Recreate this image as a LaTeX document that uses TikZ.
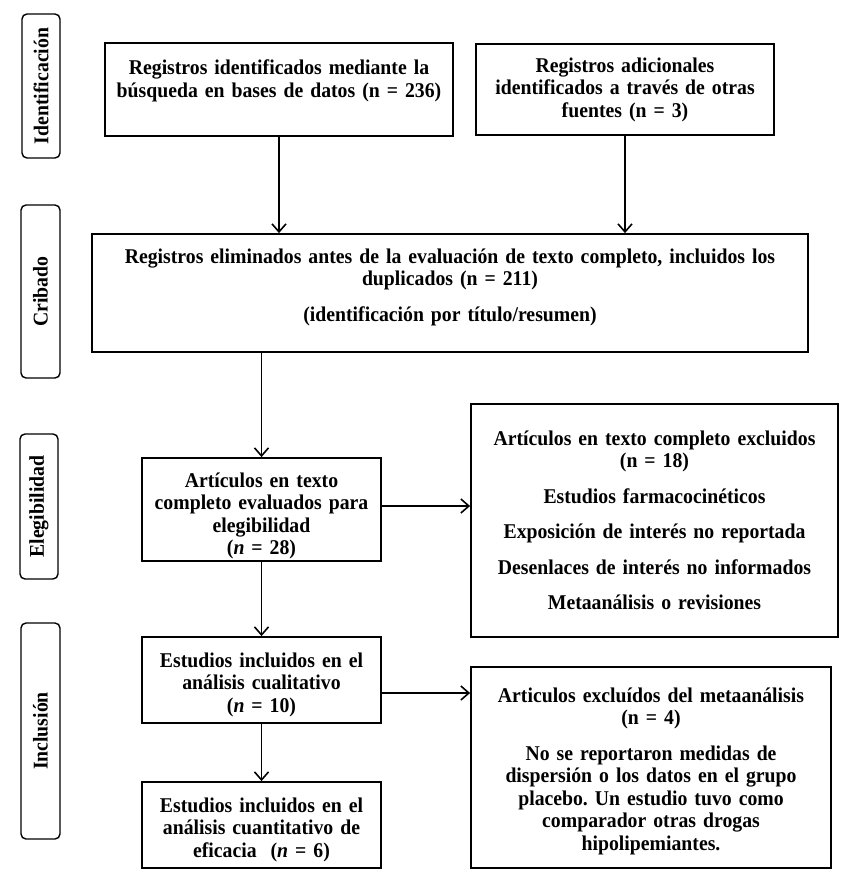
\documentclass[tikz,border=0pt]{standalone}
\usepackage{fontspec}
\setmainfont{Liberation Serif}[FakeStretch=0.94]
\usetikzlibrary{arrows.meta}
\frenchspacing

\begin{document}
\begin{tikzpicture}[x=1pt, y=-1pt, >={Straight Barb[length=8pt,width=14pt]},
	font=\bfseries\fontsize{21}{22.5}\selectfont,
	box/.style={draw, line width=1.8pt, inner sep=2pt, align=center},
	phase/.style={draw, line width=1.4pt, rounded corners=5pt, rotate=90, inner sep=0pt},
	flow/.style={->, line width=1.6pt}]
\useasboundingbox (0,0) rectangle (845,878);
%========================
% phase labels (left column)
%========================
\node[phase, minimum width=144pt, minimum height=38pt] (lident) at (41,86) {Identificación};
\node[phase, minimum width=173pt, minimum height=39pt] (lcrib) at (40.5,291.5) {Cribado};
\node[phase, minimum width=145pt, minimum height=38pt] (lelig) at (39,506.5) {Elegibilidad};
\node[phase, minimum width=216pt, minimum height=39pt] (lincl) at (40.5,731) {Inclusión};

%========================
% identification and screening
%========================
\node[box, minimum width=348pt, minimum height=93pt, text width=340pt] (ident) at (279,89.5) {
	Registros identificados mediante la\\ búsqueda en bases de datos (n = 236)\rule[-22pt]{0pt}{22pt}};
\node[box, minimum width=298pt, minimum height=91pt, text width=290pt] (other) at (625,89.5) {
	Registros adicionales\\ identificados a través de otras\\ fuentes (n = 3)};
\node[box, minimum width=716pt, minimum height=118pt, text width=708pt] (screen) at (450,293) {
	Registros eliminados antes de la evaluación de texto completo, incluidos los\\ duplicados (n = 211)\\[13pt]
	(identificación por título/resumen)\rule[-16pt]{0pt}{16pt}};

%========================
% eligibility
%========================
\node[box, minimum width=239pt, minimum height=103pt, text width=232pt] (elig) at (261.5,509.5) {
	\rule{0pt}{27pt}Artículos en texto\\ completo evaluados para\\ elegibilidad\\ (\textit{n} = 28)};
\node[box, minimum width=367pt, minimum height=233pt, text width=360pt] (ftexcl) at (654.5,520.5) {
	Artículos en texto completo excluidos\\ (n = 18)\\[13pt]
	Estudios farmacocinéticos\\[13pt]
	Exposición de interés no reportada\\[13pt]
	Desenlaces de interés no informados\\[13pt]
	Metaanálisis o revisiones};

%========================
% inclusion
%========================
\node[box, minimum width=239pt, minimum height=86pt, text width=232pt] (qual) at (261.5,680) {
	\rule{0pt}{24pt}Estudios incluidos en el\\ análisis cualitativo\\ (\textit{n} = 10)};
\node[box, minimum width=239pt, minimum height=86pt, text width=232pt] (quant) at (261.5,825) {
	\rule{0pt}{24pt}Estudios incluidos en el\\ análisis cuantitativo de\\ eficacia~ (\textit{n} = 6)};
\node[box, minimum width=360pt, minimum height=201pt, text width=352pt] (metaexcl) at (651,767.5) {
	\rule{0pt}{22pt}Articulos excluídos del metaanálisis\\ (n = 4)\\[13pt]
	No se reportaron medidas de\\ dispersión o los datos en el grupo\\ placebo. Un estudio tuvo como\\
	comparador otras drogas\\ hipolipemiantes.};

% connectors
\draw[flow] (ident.south) -- (ident.south |- screen.north);
\draw[flow] (other.south) -- (other.south |- screen.north);
\draw[flow] (elig.north |- screen.south) -- (elig.north);
\draw[flow] (elig.south) -- (qual.north);
\draw[flow] (qual.south) -- (quant.north);
\draw[flow] ([yshift=3.5pt]elig.east) -- ([yshift=3.5pt]elig.east -| ftexcl.west);
\draw[flow] ([yshift=-13pt]qual.east) -- ([yshift=-13pt]qual.east -| metaexcl.west);
\end{tikzpicture}
\end{document}
